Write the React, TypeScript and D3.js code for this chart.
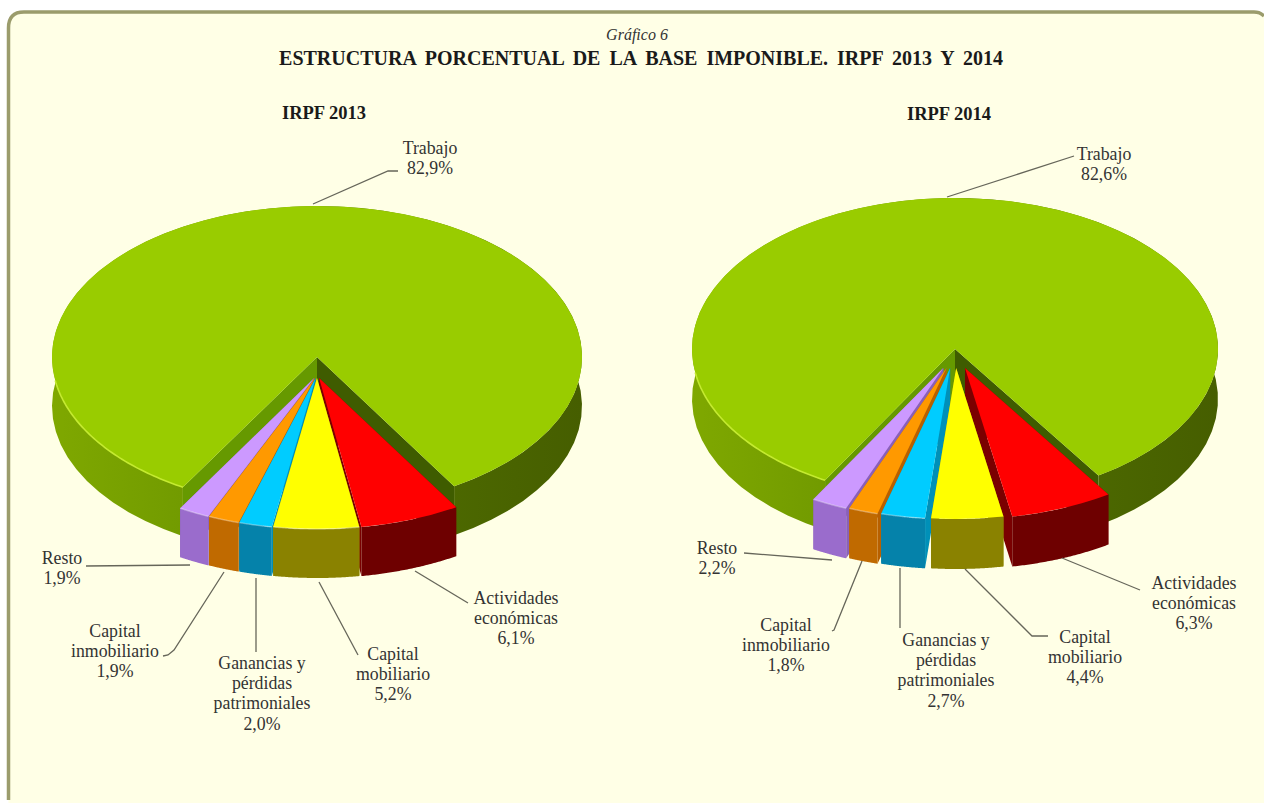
import React, { useEffect, useRef } from "react";
import * as d3 from "d3";

// chart values, in drawing order round the pie
const categories = ["Trabajo", "Actividades económicas", "Capital mobiliario", "Ganancias y pérdidas patrimoniales", "Capital inmobiliario", "Resto"];
const values2013 = [82.9, 6.1, 5.2, 2.0, 1.9, 1.9];
const values2014 = [82.6, 6.3, 4.4, 2.7, 1.8, 2.2];
const topColors = ["#99cc00", "#ff0000", "#ffff00", "#00ccff", "#ff9900", "#cc99ff"];
const wallColors = ["#668800", "#6e0000", "#8a8200", "#0582aa", "#c06a00", "#9a6ccc"];
const faceColors = ["#4b6a00", "#7a0000", "#a09800", "#0090b8", "#b86000", "#8a60b8"];
const labelLines = [
  ["Trabajo"],
  ["Actividades", "económicas"],
  ["Capital", "mobiliario"],
  ["Ganancias y", "pérdidas", "patrimoniales"],
  ["Capital", "inmobiliario"],
  ["Resto"],
];

const WIDTH = 1264;
const HEIGHT = 803;
const SERIF = "'Liberation Serif', 'Times New Roman', serif";

const layout2013 = {
  title: "IRPF 2013", titleX: 324, titleY: 119,
  values: values2013,
  cx: 317, cy: 357, rx: 265, ry: 151, depth: 49, start: -149.6, explodeX: 6, explodeY: 21,
  labels: [
    { x: 430, y: 154, leader: [[313, 204], [388, 171], [398, 171]] },
    { x: 516, y: 604, leader: [[415, 571], [468, 603]] },
    { x: 393, y: 660, leader: [[319, 582], [358, 655]] },
    { x: 262, y: 669, leader: [[256, 578], [256, 652]] },
    { x: 115, y: 637, leader: [[224, 572], [174, 650], [168, 655], [163, 656]] },
    { x: 62, y: 564, leader: [[86, 566], [190, 565]] },
  ],
};

const layout2014 = {
  title: "IRPF 2014", titleX: 949, titleY: 120,
  values: values2014,
  cx: 955, cy: 349, rx: 263, ry: 151, depth: 50, start: -150.4, explodeX: 27, explodeY: 19,
  labels: [
    { x: 1104, y: 160, leader: [[947, 197], [1074, 156]] },
    { x: 1194, y: 589, leader: [[1062, 558], [1140, 590]] },
    { x: 1085, y: 643, leader: [[965, 569], [1032, 636], [1048, 636]] },
    { x: 946, y: 646, leader: [[900, 568], [900, 628]] },
    { x: 786, y: 631, leader: [[862, 561], [834, 630], [832, 631]] },
    { x: 717, y: 554, leader: [[744, 553], [832, 560]] },
  ],
};

const formatPct = (v: number) => d3.format(".1f")(v).replace(".", ",") + "%";

const drawPie = (svg: any, cfg: typeof layout2013, id: string) => {
  const { cx, cy, rx, ry, depth, explodeX, explodeY } = cfg;
  const k = ry / rx;
  const startAngle = (cfg.start * Math.PI) / 180;

  const slices = d3
    .pie<number>()
    .sort(null)
    .startAngle(startAngle)
    .endAngle(startAngle + Math.PI * 2)(cfg.values);

  const arc = d3.arc<any>().innerRadius(0).outerRadius(rx);
  const line = d3.line();

  const rim = (a0: number, a1: number, ox: number, oy: number) =>
    d3.range(61).map(i => {
      const a = a0 + ((a1 - a0) * i) / 60;
      return [cx + ox + Math.sin(a) * rx, cy + oy - Math.cos(a) * ry] as [number, number];
    });

  const grad = svg
    .append("defs")
    .append("linearGradient")
    .attr("id", id)
    .attr("gradientUnits", "userSpaceOnUse")
    .attr("x1", cx - rx)
    .attr("x2", cx + rx)
    .attr("y1", 0)
    .attr("y2", 0);
  grad.append("stop").attr("offset", 0).attr("stop-color", "#7fa800");
  grad.append("stop").attr("offset", 0.3).attr("stop-color", "#6f9800");
  grad.append("stop").attr("offset", 0.75).attr("stop-color", "#4c6800");
  grad.append("stop").attr("offset", 1).attr("stop-color", "#465e00");

  const drawSlice = (index: number) => {
    const s = slices[index];
    const mid = (s.startAngle + s.endAngle) / 2;
    const big = index === 0;
    const ox = big ? 0 : Math.sin(mid) * explodeX;
    const oy = big ? 0 : explodeY;
    const g = svg.append("g");
    const apexX = cx + ox;
    const apexY = cy + oy;

    [s.startAngle, s.endAngle].forEach((a: number, side: number) => {
      const ex = apexX + Math.sin(a) * rx;
      const ey = apexY - Math.cos(a) * ry;
      g.append("path")
        .attr("d", line([[apexX, apexY], [ex, ey], [ex, ey + depth], [apexX, apexY + depth]]) + "Z")
        .attr("fill", big ? (side === 0 ? "#669900" : "#3f5c00") : faceColors[index]);
    });

    const top = rim(s.startAngle, s.endAngle, ox, oy);
    const bottom = rim(s.endAngle, s.startAngle, ox, oy + depth);
    g.append("path")
      .attr("d", line([...top, ...bottom]) + "Z")
      .attr("fill", big ? `url(#${id})` : wallColors[index]);

    g.append("path")
      .attr("transform", `translate(${apexX},${apexY}) scale(1,${k})`)
      .attr("d", arc(s))
      .attr("fill", topColors[index]);

    // thin light edge where the top meets the wall on the left side
    if (big) {
      g.append("path")
        .attr("d", line(rim(s.startAngle, -Math.PI * 0.55, 0, 0)) as string)
        .attr("fill", "none")
        .attr("stroke", "#c4ea30")
        .attr("stroke-width", 1.6);
    } else if (mid < 0 || mid > Math.PI) {
      g.append("path")
        .attr("d", line(top) as string)
        .attr("fill", "none")
        .attr("stroke", "#ffffff")
        .attr("stroke-opacity", 0.35)
        .attr("stroke-width", 1.4);
    }
  };

  // back to front: outer small slices first, the centre ones last
  [0, 5, 4, 1, 3, 2].forEach(drawSlice);

  cfg.labels.forEach(lab => {
    svg
      .append("path")
      .attr("d", line(lab.leader as [number, number][]) as string)
      .attr("fill", "none")
      .attr("stroke", "#66665a")
      .attr("stroke-width", 1.3);
  });

  cfg.labels.forEach((lab, i) => {
    const rows = [...labelLines[i], formatPct(cfg.values[i])];
    const text = svg
      .append("text")
      .attr("text-anchor", "middle")
      .attr("font-family", SERIF)
      .attr("font-size", 17.8)
      .attr("fill", "#333");
    rows.forEach((row, r) => {
      text.append("tspan").attr("x", lab.x).attr("y", lab.y + r * 20.2).text(row);
    });
  });

  svg
    .append("text")
    .attr("x", cfg.titleX)
    .attr("y", cfg.titleY)
    .attr("text-anchor", "middle")
    .attr("font-family", SERIF)
    .attr("font-size", 18.5)
    .attr("font-weight", "bold")
    .attr("fill", "#1a1a1a")
    .text(cfg.title);
};

const App: React.FC = () => {
  const svgRef = useRef<SVGSVGElement | null>(null);

  useEffect(() => {
    const svg = d3.select(svgRef.current);
    svg.selectAll("*").remove();

    // panel runs off the right and bottom of the picture, only top and left have a border
    const panel = "M8.5,800 L8.5,28 Q8.5,12 24,12 L1254,12 Q1260,12 1264,16";
    svg
      .append("path")
      .attr("d", panel + " L1264,803 L8.5,803 Z")
      .attr("fill", "#ffffe6");
    svg
      .append("path")
      .attr("d", panel)
      .attr("fill", "none")
      .attr("stroke", "#9b9c6c")
      .attr("stroke-width", 3.5);

    svg
      .append("text")
      .attr("x", 637)
      .attr("y", 40)
      .attr("text-anchor", "middle")
      .attr("font-family", SERIF)
      .attr("font-size", 16)
      .attr("font-style", "italic")
      .attr("fill", "#333")
      .text("Gráfico 6");

    svg
      .append("text")
      .attr("x", 641)
      .attr("y", 65)
      .attr("text-anchor", "middle")
      .attr("font-family", SERIF)
      .attr("font-size", 20)
      .attr("font-weight", "bold")
      .attr("word-spacing", 4)
      .attr("fill", "#1a1a1a")
      .text("ESTRUCTURA PORCENTUAL DE LA BASE IMPONIBLE. IRPF 2013 Y 2014");

    drawPie(svg, layout2013, "wall2013");
    drawPie(svg, layout2014, "wall2014");
  }, []);

  return (
    <svg
      ref={svgRef}
      width={WIDTH}
      height={HEIGHT}
      style={{ position: "absolute", left: 0, top: 0, background: "#fff" }}
    ></svg>
  );
};

export default App;
